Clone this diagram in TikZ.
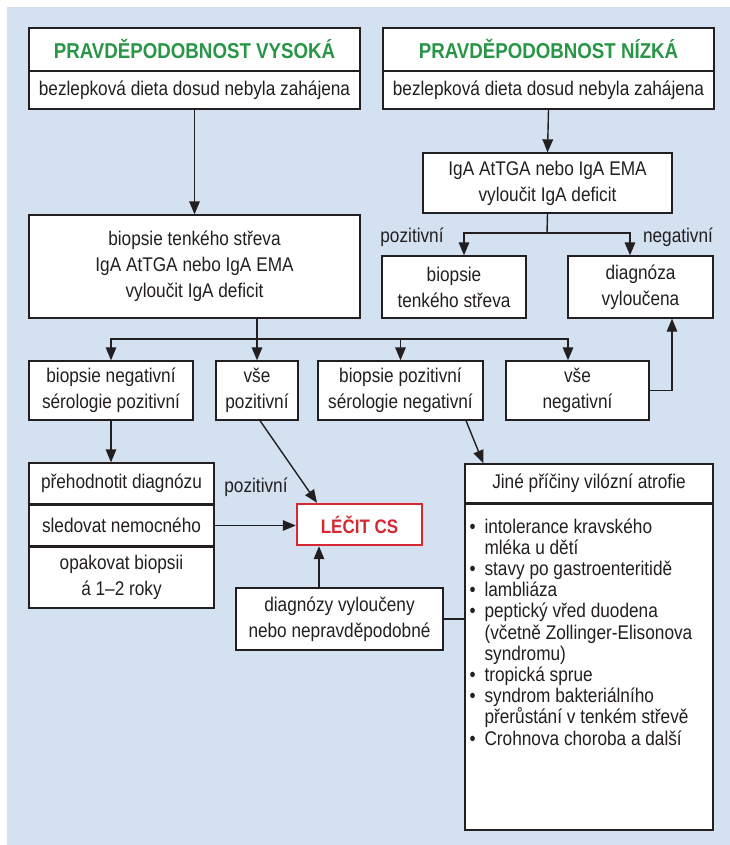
\documentclass[tikz,border=0pt]{standalone}
\usepackage{fontspec}
\setmainfont[FakeStretch=0.87]{Liberation Sans}
\usetikzlibrary{arrows.meta,calc}
\definecolor{panel}{RGB}{211,225,241}
\definecolor{ink}{RGB}{35,31,32}
\definecolor{titlegreen}{RGB}{40,150,70}
\definecolor{alarm}{RGB}{214,40,50}
% bullet list helpers
\newcommand\itm{\makebox[15pt][l]{•}}
\newcommand\cnt{\hspace*{15pt}}

\begin{document}
\begin{tikzpicture}[x=1pt,y=-1pt,
  box/.style={draw=ink, fill=white, line width=1.3pt, inner sep=0pt, align=center,
    text=ink, font=\fontsize{19.8}{26}\selectfont},
  head/.style={box, font=\fontsize{21.5}{24}\selectfont\bfseries, text=titlegreen},
  conn/.style={draw=ink, line width=1.4pt},
  arr/.style={conn, -{Triangle[length=13pt,width=10.5pt]}},
  lbl/.style={text=ink, font=\fontsize{19.8}{22}\selectfont, inner sep=0pt}
]
\useasboundingbox (0,0) rectangle (730,845);
\fill[panel] (7,7) rectangle (730,845);

% --- high probability branch
\node[head, minimum width=331pt, minimum height=42.5pt] (t1) at (194.5,49.25) {PRAVDĚPODOBNOST VYSOKÁ};
\node[box, minimum width=331pt, minimum height=37.5pt] (d1) at (194.5,90.25) {bezlepková dieta dosud nebyla zahájena};
\node[box, minimum width=331pt, minimum height=103pt] (big) at (194.5,266.5)
  {biopsie tenkého střeva\\IgA AtTGA nebo IgA EMA\\vyloučit IgA deficit};

% --- low probability branch
\node[head, minimum width=331pt, minimum height=42.5pt] (t2) at (548.5,49.25) {PRAVDĚPODOBNOST NÍZKÁ};
\node[box, minimum width=331pt, minimum height=37.5pt] (d2) at (548.5,90.25) {bezlepková dieta dosud nebyla zahájena};
\node[box, minimum width=249pt, minimum height=60pt] (iga) at (547.5,183)
  {IgA AtTGA nebo IgA EMA\\vyloučit IgA deficit};
\node[box, minimum width=144pt, minimum height=62pt] (bts) at (454,287) {biopsie\\tenkého střeva};
\node[box, minimum width=145pt, minimum height=62pt] (dv) at (640.5,287) {diagnóza\\vyloučena};

% --- outcome row
\node[box, minimum width=164pt, minimum height=59pt] (bn) at (111,390.5) {biopsie negativní\\sérologie pozitivní};
\node[box, minimum width=82pt, minimum height=59pt] (vp) at (257,390.5) {vše\\pozitivní};
\node[box, minimum width=165pt, minimum height=59pt] (bp) at (400.5,390.5) {biopsie pozitivní\\sérologie negativní};
\node[box, minimum width=143pt, minimum height=59pt] (vn) at (577.5,390.5) {vše\\negativní};

% --- follow-up stack
\node[box, minimum width=185pt, minimum height=41pt] (ph) at (121.5,483.5) {přehodnotit diagnózu};
\node[box, minimum width=185pt, minimum height=41pt] (sn) at (121.5,525.5) {sledovat nemocného};
\node[box, minimum width=185pt, minimum height=61pt] (ob) at (121.5,577.5) {opakovat biopsii\\á 1–2 roky};

% --- treatment
\node[box, draw=alarm, line width=2.4pt, minimum width=125pt, minimum height=41pt,
  text=alarm, font=\fontsize{19.5}{22}\selectfont\bfseries] (lecit) at (359.5,524.5) {LÉČIT CS};
\node[box, minimum width=207pt, minimum height=62pt] (dz) at (339.5,619) {diagnózy vyloučeny\\nebo nepravděpodobné};

% --- other causes
\node[box, minimum width=248pt, minimum height=38.5pt] (jt) at (589,483.25) {Jiné příčiny vilózní atrofie};
\node[box, minimum width=248pt, minimum height=326pt] (jl) at (589,667) {};
\node[anchor=north west, align=left, inner sep=0pt, text=ink,
  font=\fontsize{19.8}{21.2}\selectfont] (jlist) at ($(jl.north west)+(5,15)$)
  {\itm intolerance kravského\\
   \cnt mléka u dětí\\
   \itm stavy po gastroenteritidě\\
   \itm lambliáza\\
   \itm peptický vřed duodena\\
   \cnt (včetně Zollinger-Elisonova\\
   \cnt syndromu)\\
   \itm tropická sprue\\
   \itm syndrom bakteriálního\\
   \cnt přerůstání v tenkém střevě\\
   \itm Crohnova choroba a další};

% --- connectors
\draw[arr] (d1.south) -- (big.north);
\draw[arr] (d2.south) -- (iga.north);
\coordinate (fork) at (547,233);
\draw[conn] (iga.south) -- (fork);
\draw[arr] (fork) -| ($(bts.north)+(10,0)$);
\draw[arr] (fork) -| ($(dv.north)+(-10.5,0)$);

\coordinate (hub) at (257,339);
\draw[arr] (big.south -| vp.north) -- (vp.north);
\draw[arr] (hub) -| (bn.north);
\draw[arr] (hub) -| (bp.north);
\draw[arr] (hub) -| ($(vn.north)+(-9.5,0)$);
\draw[arr] (vn.east) -| ($(dv.south)+(31.5,0)$);

\draw[arr] (bn.south) -- (bn.south |- ph.north);
\draw[arr] ($(vp.south)+(3,0)$) -- ($(lecit.north)+(-42.5,0)$);
\draw[arr] (sn.east) -- (sn.east -| lecit.west);
\draw[arr] ($(dz.north)+(-20.5,0)$) -- ($(lecit.south)+(-40.5,0)$);
\draw[arr] ($(bp.south)+(65.5,0)$) -- ($(jt.north west)+(19,0)$);
\draw[conn] (dz.east) -- (dz.east -| jl.west);

% --- branch labels
\node[lbl] (lp1) at (412,237) {pozitivní};
\node[lbl] (ln1) at (678,237) {negativní};
\node[lbl] (lp2) at (256,487) {pozitivní};
\end{tikzpicture}
\end{document}
